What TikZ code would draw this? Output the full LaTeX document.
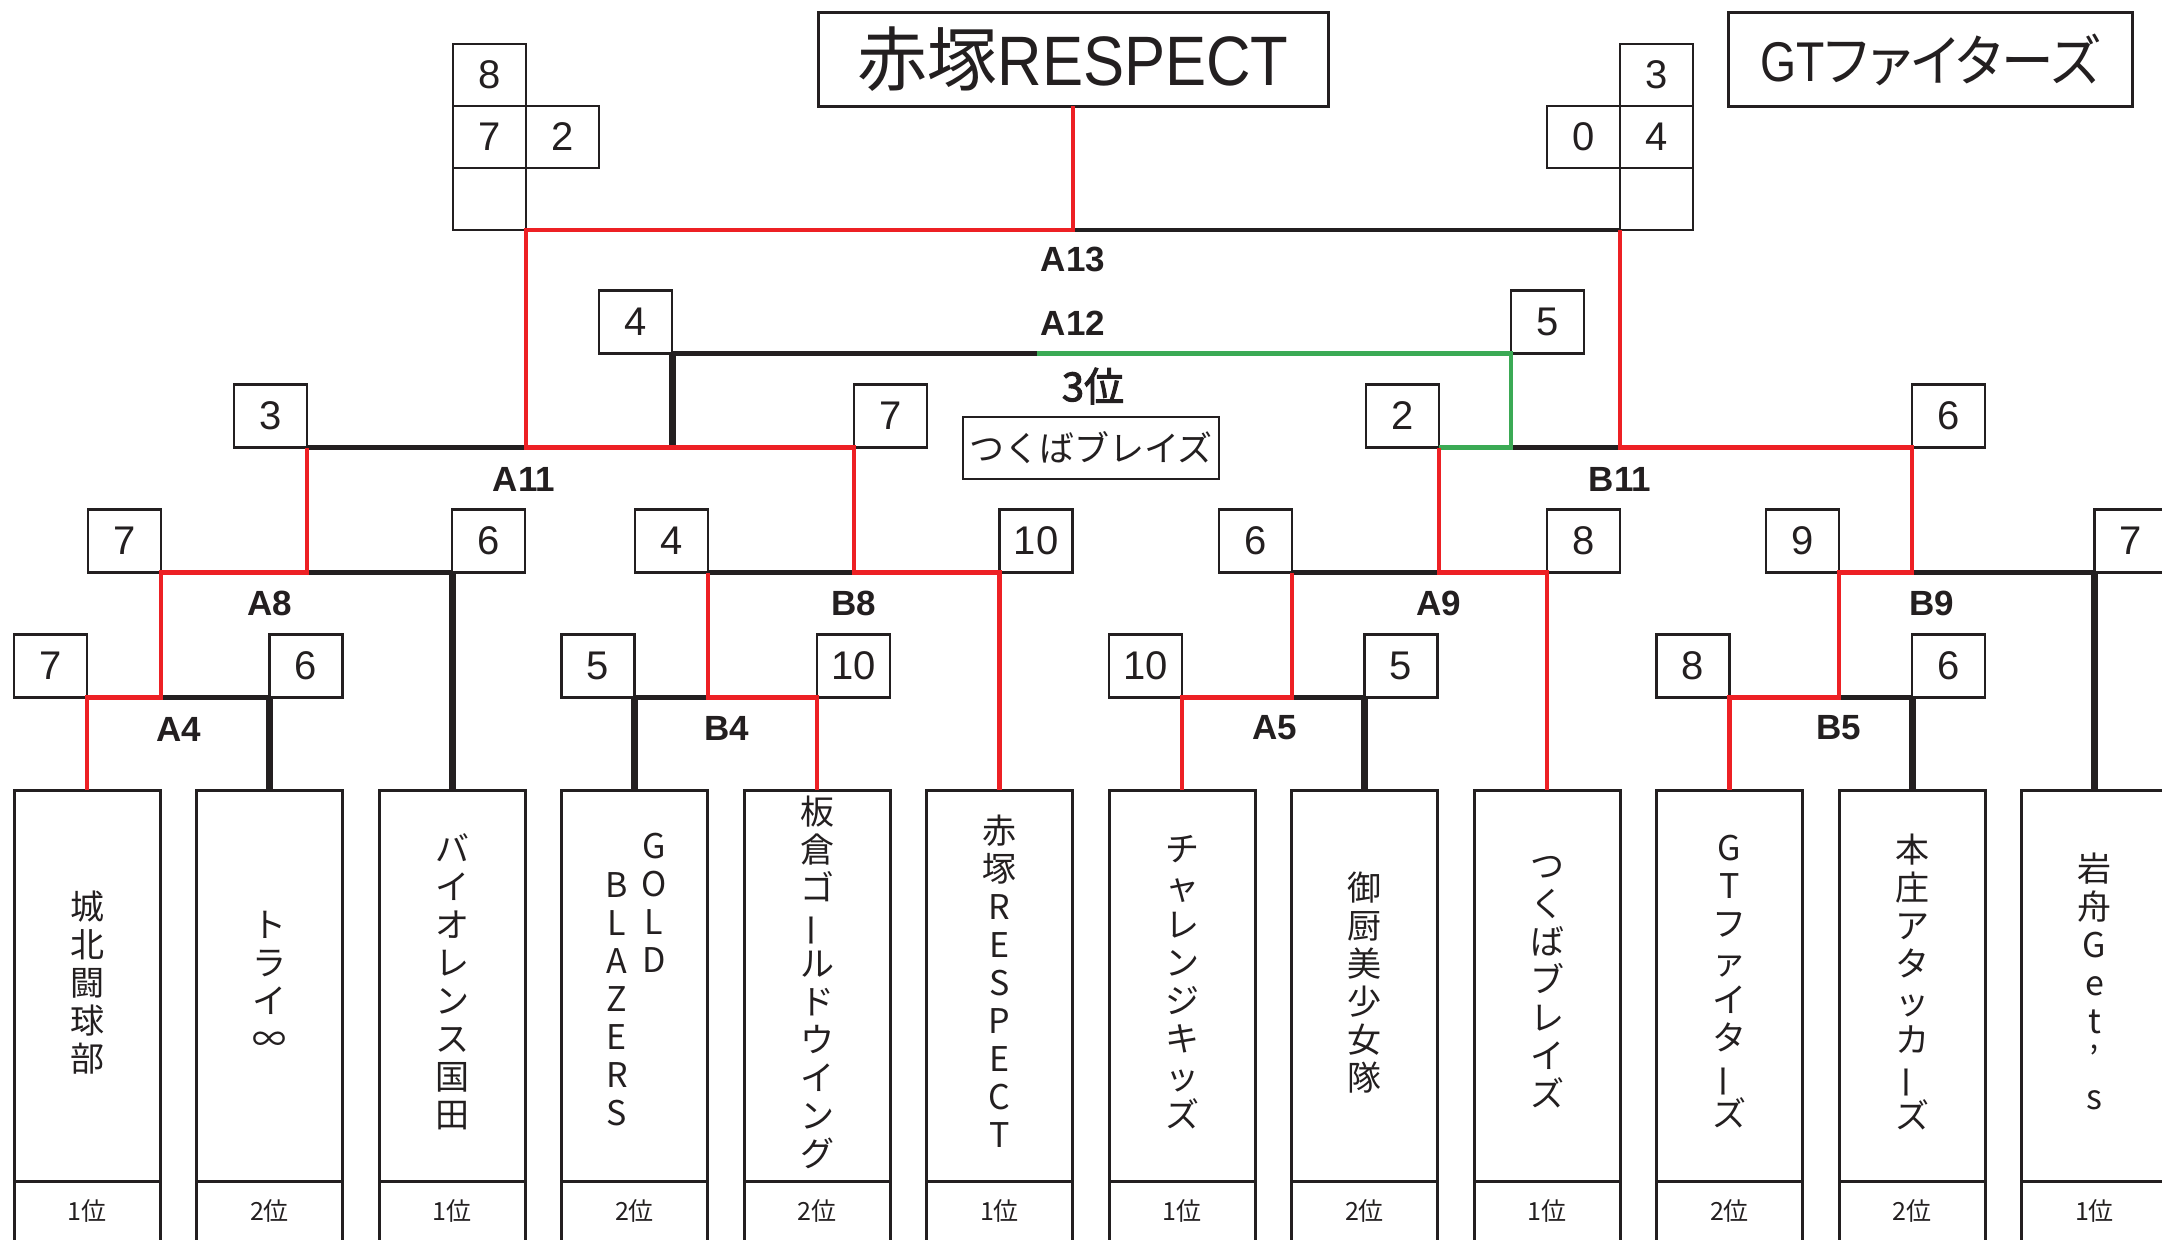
\documentclass[tikz,border=0pt]{standalone}
\usepackage{fontspec}
\setmainfont{Liberation Sans}
\newfontfamily\cjk{Noto Sans CJK JP}
\newfontfamily\cjkp[RawFeature=+palt]{Noto Sans CJK JP}
\newfontfamily\cjkheavy[FakeBold=2.5]{Noto Sans CJK JP}
\definecolor{ink}{HTML}{231F20}
\definecolor{bred}{HTML}{ED2024}
\definecolor{bgreen}{HTML}{3BAA55}
\newcommand\vbar{\smash{\rotatebox[origin=c]{90}{ー}}}
\tikzset{
  rline/.style={draw=bred, line width=4.5pt},
  bline/.style={draw=ink, line width=4.5pt},
  gline/.style={draw=bgreen, line width=4.5pt},
  bthick/.style={draw=ink, line width=7pt},
  score/.style={draw=ink, line width=2.5pt, minimum width=73pt, minimum height=63pt,
    inner sep=0pt, outer sep=0pt, text=ink, font=\fontsize{40}{40}\selectfont},
  stackbox/.style={score, minimum height=62pt},
  teamrect/.style={draw=ink, line width=3pt, minimum width=146pt, minimum height=520pt,
    anchor=north, inner sep=0pt, outer sep=0pt},
  tname/.style={align=center, inner sep=0pt, outer sep=0pt, text=ink,
    font=\cjk\fontsize{34}{38}\selectfont,
    execute at begin node=\rule[-6pt]{0pt}{38pt},
    execute at end node=\rule[-6pt]{0pt}{38pt}},
  rank/.style={inner sep=0pt, text=ink, font=\cjk\fontsize{25}{25}\selectfont},
  mlabel/.style={inner sep=0pt, text=ink, font=\bfseries\fontsize{35}{35}\selectfont},
  titlebox/.style={draw=ink, line width=3pt, inner sep=0pt, outer sep=0pt, text=ink,
    minimum height=93pt},
}
\newcommand\teambox[2]{%
  \pgfmathsetmacro\tbx{87+182.5*#1}%
  \node[teamrect] (t#1) at (\tbx,790) {};
  \draw[ink, line width=3pt] (t#1.west |- 0,1181) -- (t#1.east |- 0,1181);
  \node[rank] (r#1) at (\tbx,1211) {#2位};
}
\begin{document}
\begin{tikzpicture}[x=1pt,y=-1pt]
\useasboundingbox (0,0) rectangle (2162,1239);
\fill[white] (0,0) rectangle (2162,1239);
\clip (0,0) rectangle (2162,1239);

% ---------- team boxes ----------
\teambox{0}{1}
\teambox{1}{2}
\teambox{2}{1}
\teambox{3}{2}
\teambox{4}{2}
\teambox{5}{1}
\teambox{6}{1}
\teambox{7}{2}
\teambox{8}{1}
\teambox{9}{2}
\teambox{10}{2}
\teambox{11}{1}

\node[tname] (n0) at (87,984) {城\\北\\闘\\球\\部};
\node[tname] (n1) at (269.5,984) {ト\\ラ\\イ\\∞};
\node[tname] (n2) at (452,984) {バ\\イ\\オ\\レ\\ン\\ス\\国\\田};
\node[tname] (n3) at (654,906) {G\\O\\L\\D};
\node[tname] (n3b) at (617,1002) {B\\L\\A\\Z\\E\\R\\S};
\node[tname] (n4) at (817,984) {板\\倉\\ゴ\\\vbar\\ル\\ド\\ウ\\イ\\ン\\グ};
\node[tname] (n5) at (999.5,984) {赤\\塚\\R\\E\\S\\P\\E\\C\\T};
\node[tname] (n6) at (1182,984) {チ\\ャ\\レ\\ン\\ジ\\キ\\ッ\\ズ};
\node[tname] (n7) at (1364.5,984) {御\\厨\\美\\少\\女\\隊};
\node[tname] (n8) at (1547,984) {つ\\く\\ば\\ブ\\レ\\イ\\ズ};
\node[tname] (n9) at (1729.5,984) {G\\T\\フ\\ァ\\イ\\タ\\\vbar\\ズ};
\node[tname] (n10) at (1912,984) {本\\庄\\ア\\タ\\ッ\\カ\\\vbar\\ズ};
\node[tname] (n11) at (2094.5,984) {岩\\舟\\G\\e\\t\\’\\s};

% ---------- title boxes ----------
\node[titlebox, minimum width=510pt, font=\fontsize{70}{70}\selectfont] (title) at (1073,59.5)
  {\raisebox{-4pt}{{\cjk 赤塚}\scalebox{0.88}[1]{RESPECT}}};
\node[titlebox, minimum width=404pt, font=\fontsize{56}{56}\selectfont] (gt) at (1930,59.5)
  {\raisebox{4pt}{\scalebox{0.94}[1]{\scalebox{0.88}[1]{GT}{\cjkp ファイターズ}}}};

\node[inner sep=0pt, text=ink, font=\cjkheavy\fontsize{40}{40}\selectfont] (third) at (1093,386) {3位};
\node[draw=ink, line width=2.5pt, minimum width=256pt, minimum height=62pt, inner sep=0pt,
  text=ink, font=\cjk\fontsize{35}{35}\selectfont] (tsukuba) at (1091,448) {つくばブレイズ};

% ---------- score boxes ----------
\node[score] (a4l) at (50.5,666) {7};
\node[score] (a4r) at (306,666) {6};
\node[score] (b4l) at (598,666) {5};
\node[score] (b4r) at (853.5,666) {10};
\node[score] (a5l) at (1145.5,666) {10};
\node[score] (a5r) at (1401,666) {5};
\node[score] (b5l) at (1693,666) {8};
\node[score] (b5r) at (1948.5,666) {6};

\node[score] (a8l) at (124.5,541) {7};
\node[score] (a8r) at (488.5,541) {6};
\node[score] (b8l) at (671.5,541) {4};
\node[score] (b8r) at (1036,541) {10};
\node[score] (a9l) at (1255.5,541) {6};
\node[score] (a9r) at (1583.5,541) {8};
\node[score] (b9l) at (1802.5,541) {9};
\node[score] (b9r) at (2131,541) {7};

\node[score] (a11l) at (270.5,416) {3};
\node[score] (a11r) at (890.5,416) {7};
\node[score] (b11l) at (1402.5,416) {2};
\node[score] (b11r) at (1948.5,416) {6};

\node[score] (a12l) at (635.5,322) {4};
\node[score] (a12r) at (1547.5,322) {5};

\node[stackbox] (a13a) at (489.5,75) {8};
\node[stackbox] (a13b) at (489.5,137) {7};
\node[stackbox] (a13c) at (562.5,137) {2};
\node[stackbox] (a13d) at (489.5,199) {};
\node[stackbox] (b13a) at (1656.5,75) {3};
\node[stackbox] (b13b) at (1583.5,137) {0};
\node[stackbox] (b13c) at (1656.5,137) {4};
\node[stackbox] (b13d) at (1656.5,199) {};

\coordinate (a12mid) at (1037,353.5);

% ---------- match labels ----------
\node[mlabel] (lA4) at (179,729) {A4};
\node[mlabel] (lB4) at (727,728) {B4};
\node[mlabel] (lA5) at (1275,728) {A5};
\node[mlabel] (lB5) at (1839,728) {B5};
\node[mlabel] (lA8) at (270,603) {A8};
\node[mlabel] (lB8) at (854,603) {B8};
\node[mlabel] (lA9) at (1439,603) {A9};
\node[mlabel] (lB9) at (1932,603) {B9};
\node[mlabel] (lA11) at (524,479) {A11};
\node[mlabel] (lB11) at (1620,479) {B11};
\node[mlabel] (lA12) at (1073,323) {A12};
\node[mlabel] (lA13) at (1073,259) {A13};

% ---------- black thin lines ----------
\draw[bline] (a4r.south west -| a8l.south east) -- (a4r.south west);
\draw[bline] (a11l.south east |- a8r.south west) -- (a8r.south west);
\draw[bline] (b4l.south east) -- (b8l.south east |- b4l.south east);
\draw[bline] (b8l.south east) -- (a11r.south west |- b8l.south east);
\draw[bline] (a11l.south east) -- (a13d.south east |- a11l.south east);
\draw[bline] (a12l.south east) -- (a12mid);
\draw[bline] (title.south |- a13d.south east) -- (b13d.south west);
\draw[bline] (a9l.south east |- a5r.south west) -- (a5r.south west);
\draw[bline] (a9l.south east) -- (b11l.south east |- a9l.south east);
\draw[bline] (a12r.south west |- b11l.south east) -- (b13d.south west |- b11l.south east);
\draw[bline] (b9l.south east |- b5r.south west) -- (b5r.south west);
\draw[bline] (b11r.south west |- b9l.south east) -- (b9r.south west);

% ---------- black thick lines ----------
\draw[bthick] (a4r.south west) -- (t1.north);
\draw[bthick] (a8r.south west) -- (t2.north);
\draw[bthick] (b4l.south east) -- (t3.north);
\draw[bthick] (a12l.south east) -- (a12l.south east |- a11l.south east);
\draw[bthick] (a5r.south west) -- (t7.north);
\draw[bthick] (b5r.south west) -- (t10.north);
\draw[bthick] (b9r.south west) -- (t11.north);

% ---------- green (3rd place) ----------
\draw[gline] (b11l.south east) -| (a12r.south west) -- (a12mid);

% ---------- red (winners) ----------
\draw[rline] (t0.north) -- (a4l.south east) -| (a8l.south east) -| (a11l.south east);
\draw[rline] (t5.north) -- (b8r.south west) -| (a11r.south west) -| (a13d.south east) -| (title.south);
\draw[rline] (t4.north) -- (b4r.south west) -| (b8l.south east);
\draw[rline] (t6.north) -- (a5l.south east) -| (a9l.south east);
\draw[rline] (t8.north) -- (a9r.south west) -| (b11l.south east);
\draw[rline] (t9.north) -- (b5l.south east) -| (b9l.south east) -| (b11r.south west) -| (b13d.south west);
\end{tikzpicture}
\end{document}
